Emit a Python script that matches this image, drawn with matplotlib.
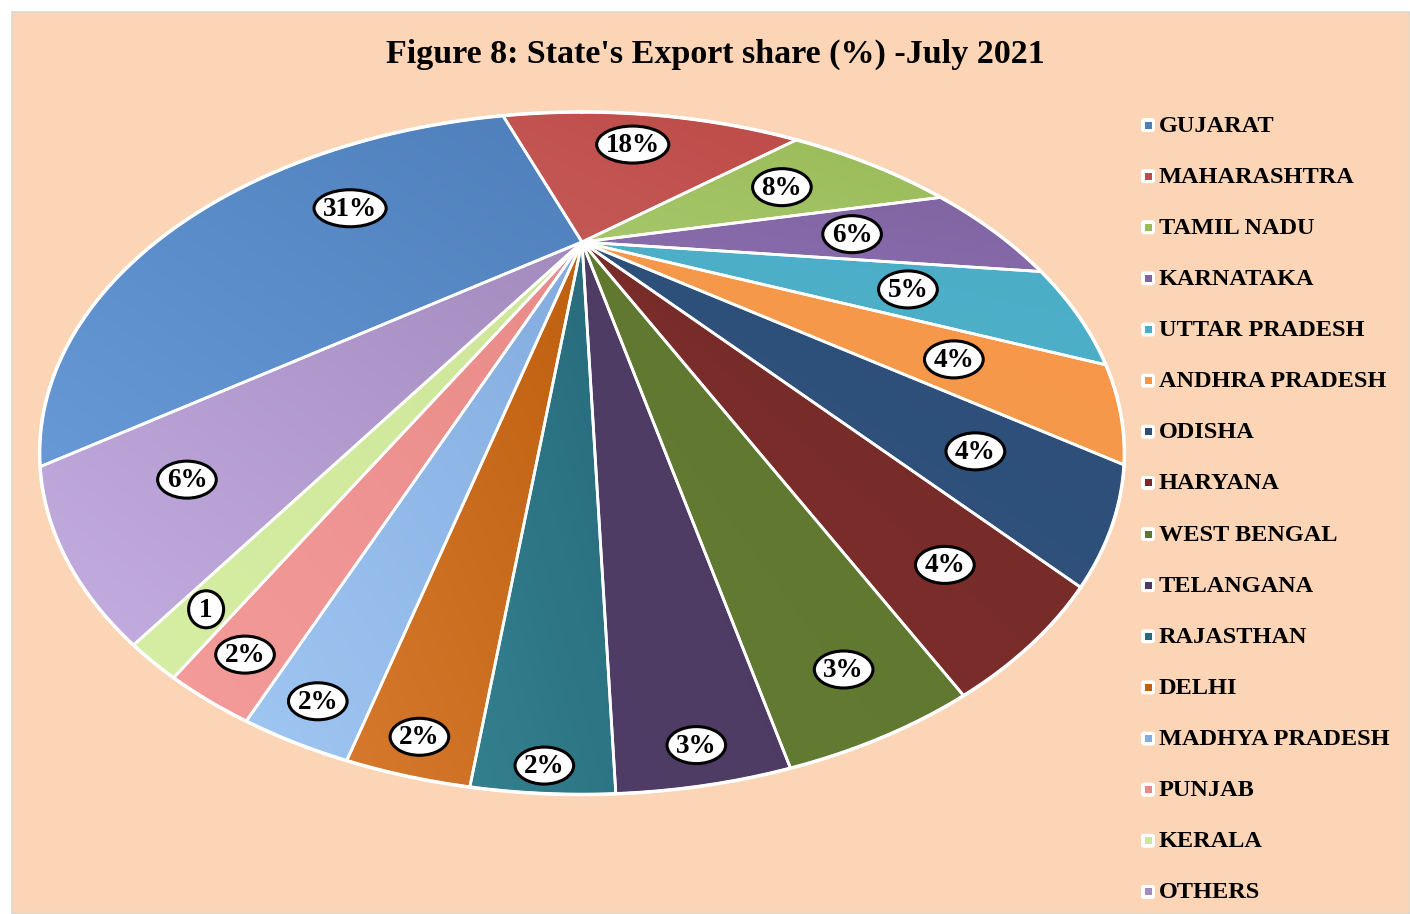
import numpy as np
import matplotlib
matplotlib.use("Agg")
import matplotlib.pyplot as plt
from matplotlib.patches import Polygon, Ellipse, Rectangle, FancyBboxPatch
from matplotlib.colors import to_rgb

# chart data
states = ["GUJARAT", "MAHARASHTRA", "TAMIL NADU", "KARNATAKA", "UTTAR PRADESH",
          "ANDHRA PRADESH", "ODISHA", "HARYANA", "WEST BENGAL", "TELANGANA",
          "RAJASTHAN", "DELHI", "MADHYA PRADESH", "PUNJAB", "KERALA", "OTHERS"]
shares = [31.4, 17.6, 8.3, 6.0, 5.0, 4.0, 4.1, 3.6, 3.2, 2.6,
          2.1, 1.9, 1.8, 1.6, 1.1, 5.9]
share_labels = ["31%", "18%", "8%", "6%", "5%", "4%", "4%", "4%", "3%", "3%",
                "2%", "2%", "2%", "2%", "1", "6%"]

# slice colours: darker edge (top-right) and lighter edge (bottom-left)
dark_colors = ["#4E7FBB", "#BE4B48", "#9BBB59", "#8064A2", "#4BACC6", "#F79646",
               "#2C4D75", "#772C2A", "#5F7530", "#4D3B62", "#276A7C", "#BF600F",
               "#83ACDF", "#E88A88", "#CDE699", "#A38BBE"]
light_colors = ["#6699D6", "#C55A57", "#A6C76A", "#8A6DAD", "#50B2CC", "#F59B50",
                "#305482", "#7B2D2B", "#647C33", "#503D67", "#34808F", "#D6792D",
                "#A0C6F2", "#F49C9A", "#D6EEA3", "#C4ADE1"]

# layout (pixel units, y downwards)
W, H = 1410, 914
APEX = (582, 242)
AX_X, AX_Y, PERSP = 426.0, 210.5, 0.619
START_DEG = 230.0
label_radius = [0.63, 0.67, 0.64, 0.65, 0.70, 0.77, 0.84, 0.90, 0.94, 0.97,
                0.98, 0.97, 0.965, 0.955, 0.94, 0.86]
BG = "#FBD5B5"
SERIF = ["Liberation Serif", "DejaVu Serif"]


def project(u, v):
    """Map a point of the unit pie disc to the tilted (perspective) view."""
    w = 1.0 - PERSP * v
    return APEX[0] + AX_X * u / w, APEX[1] + AX_Y * v / w


def disc_point(deg, r=1.0):
    t = np.radians(deg)
    return r * np.sin(t), -r * np.cos(t)


fig = plt.figure(figsize=(W / 100, H / 100), dpi=100)
fig.patch.set_facecolor("white")
ax = fig.add_axes([0, 0, 1, 1])
ax.set_xlim(0, W)
ax.set_ylim(H, 0)
ax.axis("off")

ax.add_patch(Rectangle((12, 12), W - 12, H - 12, facecolor=BG,
                       edgecolor="#D9D9D9", linewidth=1.2, zorder=0))

fracs = np.array(shares) / np.sum(shares)
bounds = START_DEG + 360 * np.concatenate([[0], np.cumsum(fracs)])

for i in range(len(shares)):
    a0, a1 = bounds[i], bounds[i + 1]
    n = max(8, int((a1 - a0) * 3))
    angs = np.linspace(a0, a1, n)
    u, v = disc_point(angs)
    xs, ys = project(u, v)
    pts = np.column_stack([np.r_[APEX[0], xs], np.r_[APEX[1], ys]])

    # gradient image over the slice's bounding box, clipped to the slice
    x0, x1 = pts[:, 0].min(), pts[:, 0].max()
    y0, y1 = pts[:, 1].min(), pts[:, 1].max()
    gx, gy = np.meshgrid(np.linspace(0, 1, 120), np.linspace(0, 1, 120))
    t = ((1 - gx) + gy) / 2
    c0, c1 = np.array(to_rgb(dark_colors[i])), np.array(to_rgb(light_colors[i]))
    img = c0[None, None, :] + t[..., None] * (c1 - c0)[None, None, :]
    im = ax.imshow(img, extent=(x0, x1, y1, y0), origin="upper",
                   aspect="auto", zorder=1, interpolation="bilinear")
    poly = Polygon(pts, closed=True, facecolor="none", edgecolor="white",
                   linewidth=2, zorder=2, joinstyle="round")
    ax.add_patch(poly)
    im.set_clip_path(poly)

# outer rim
u, v = disc_point(np.linspace(0, 360, 721))
rx, ry = project(u, v)
ax.plot(rx, ry, color="white", linewidth=2.5, zorder=3)

ax.set_xlim(0, W)
ax.set_ylim(H, 0)

# data labels in white ellipses
fig.canvas.draw()
renderer = fig.canvas.get_renderer()
for i, lab in enumerate(share_labels):
    mid = (bounds[i] + bounds[i + 1]) / 2
    lx, ly = project(*disc_point(mid, label_radius[i]))
    txt = ax.text(lx, ly + 1, lab, ha="center", va="center", fontsize=19.5,
                  fontweight="bold", family=SERIF, color="black", zorder=6)
    bb = txt.get_window_extent(renderer)
    ax.add_patch(Ellipse((lx, ly), max(bb.width + 18, 35), 37,
                         facecolor="white", edgecolor="black", linewidth=2.2,
                         zorder=5))

# title
ax.text(715, 54, "Figure 8: State's Export share (%) -July 2021", ha="center",
        va="center", fontsize=24.5, fontweight="bold", family=SERIF, zorder=6)

# legend
leg_top, leg_step = 125, 51.13
for i, name in enumerate(states):
    yy = leg_top + i * leg_step
    ax.add_patch(FancyBboxPatch((1141, yy - 7), 14, 14,
                                boxstyle="round,pad=0,rounding_size=3",
                                facecolor="white", edgecolor="none", zorder=5))
    ax.add_patch(Rectangle((1144.5, yy - 3.5), 7, 7, facecolor=dark_colors[i],
                           edgecolor="none", zorder=6))
    ax.text(1159, yy + 1, name, ha="left", va="center", fontsize=17.5,
            fontweight="bold", family=SERIF, zorder=6)

fig.savefig("out.png", dpi=100, facecolor=fig.get_facecolor())
